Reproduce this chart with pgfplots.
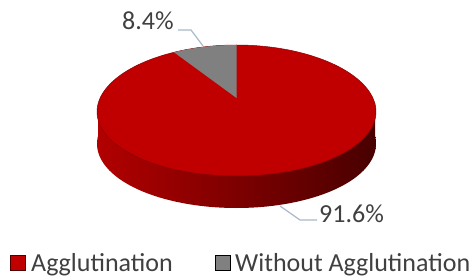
\documentclass[border=0pt]{standalone}
\usepackage{pgfplots}
\pgfplotsset{compat=1.18}
\usepackage{fontspec}
\setmainfont{Carlito}
\definecolor{topred}{HTML}{C00000}
\definecolor{edgered}{HTML}{8A0000}
\definecolor{sideL}{HTML}{B20000}
\definecolor{sideM}{HTML}{7C0000}
\definecolor{sideR}{HTML}{480000}
\definecolor{wedgegray}{HTML}{808080}
\definecolor{labelgray}{HTML}{404040}
\definecolor{leader}{HTML}{A9B8CA}
\begin{document}
\begin{tikzpicture}
\def\cx{236.5}\def\cy{104}\def\rx{138.5}\def\ra{65.5}\def\rb{6.5}\def\h{32}
\def\graypct{8.4}
\begin{axis}[
  scale only axis, width=469pt, height=278pt,
  xmin=0, xmax=469, ymin=0, ymax=278, y dir=reverse,
  hide axis, clip=false,
  legend columns=2,
  legend style={at={(axis cs:7,263.5)}, anchor=west, draw=none, fill=none,
    font=\fontsize{26}{30}\selectfont, text=labelgray,
    nodes={inner xsep=5pt, inner ysep=1pt},
    /tikz/every even column/.append style={column sep=37pt}},
  legend image code/.code={\path[#1] (0pt,-6.5pt) rectangle (15pt,8pt);},
]
% side: shifted ellipse + band
\addplot[forget plot, draw=none, left color=sideL, middle color=sideM, right color=sideR, domain=0:360, samples=181, variable=\t]
  ({\cx+\rx*cos(\t)*(1-0.12*sin(\t))}, {\cy+\h-\ra*sin(\t)+\rb*sin(\t)*sin(\t)});
\addplot[forget plot, draw=none, left color=sideL, middle color=sideM, right color=sideR]
  coordinates {(98,104) (375,104) (375,136) (98,136)} -- cycle;
% top face
\addplot[forget plot, fill=topred, draw=edgered, line width=0.5pt, domain=0:360, samples=181, variable=\t]
  ({\cx+\rx*cos(\t)*(1-0.12*sin(\t))}, {\cy-\ra*sin(\t)+\rb*sin(\t)*sin(\t)});
% gray wedge
\addplot[forget plot, fill=wedgegray, draw=none, domain=90:90+3.6*\graypct, samples=30, variable=\t]
  ({\cx+\rx*cos(\t)*(1-0.12*sin(\t))}, {\cy-\ra*sin(\t)+\rb*sin(\t)*sin(\t)}) -- (236.5,98) -- cycle;
% leader lines
\addplot[forget plot, leader, line width=1.2pt] coordinates {(178,30) (191,30) (203,46)};
\addplot[forget plot, leader, line width=1.2pt] coordinates {(280,206) (300,220) (317,220)};
\node[anchor=base west, text=labelgray, font=\fontsize{26}{30}\selectfont, inner sep=0pt] at (122,30) {8.4\%};
\node[anchor=base west, text=labelgray, font=\fontsize{26}{30}\selectfont, inner sep=0pt] at (319,222) {91.6\%};
% legend
\addlegendimage{fill=topred, draw=black!70!red, line width=1pt}
\addlegendentry{Agglutination}
\addlegendimage{fill=wedgegray}
\addlegendentry{Without Agglutination}
\end{axis}
\pgfresetboundingbox
\path (current axis.south west) rectangle (current axis.north east);
\end{tikzpicture}
\end{document}
